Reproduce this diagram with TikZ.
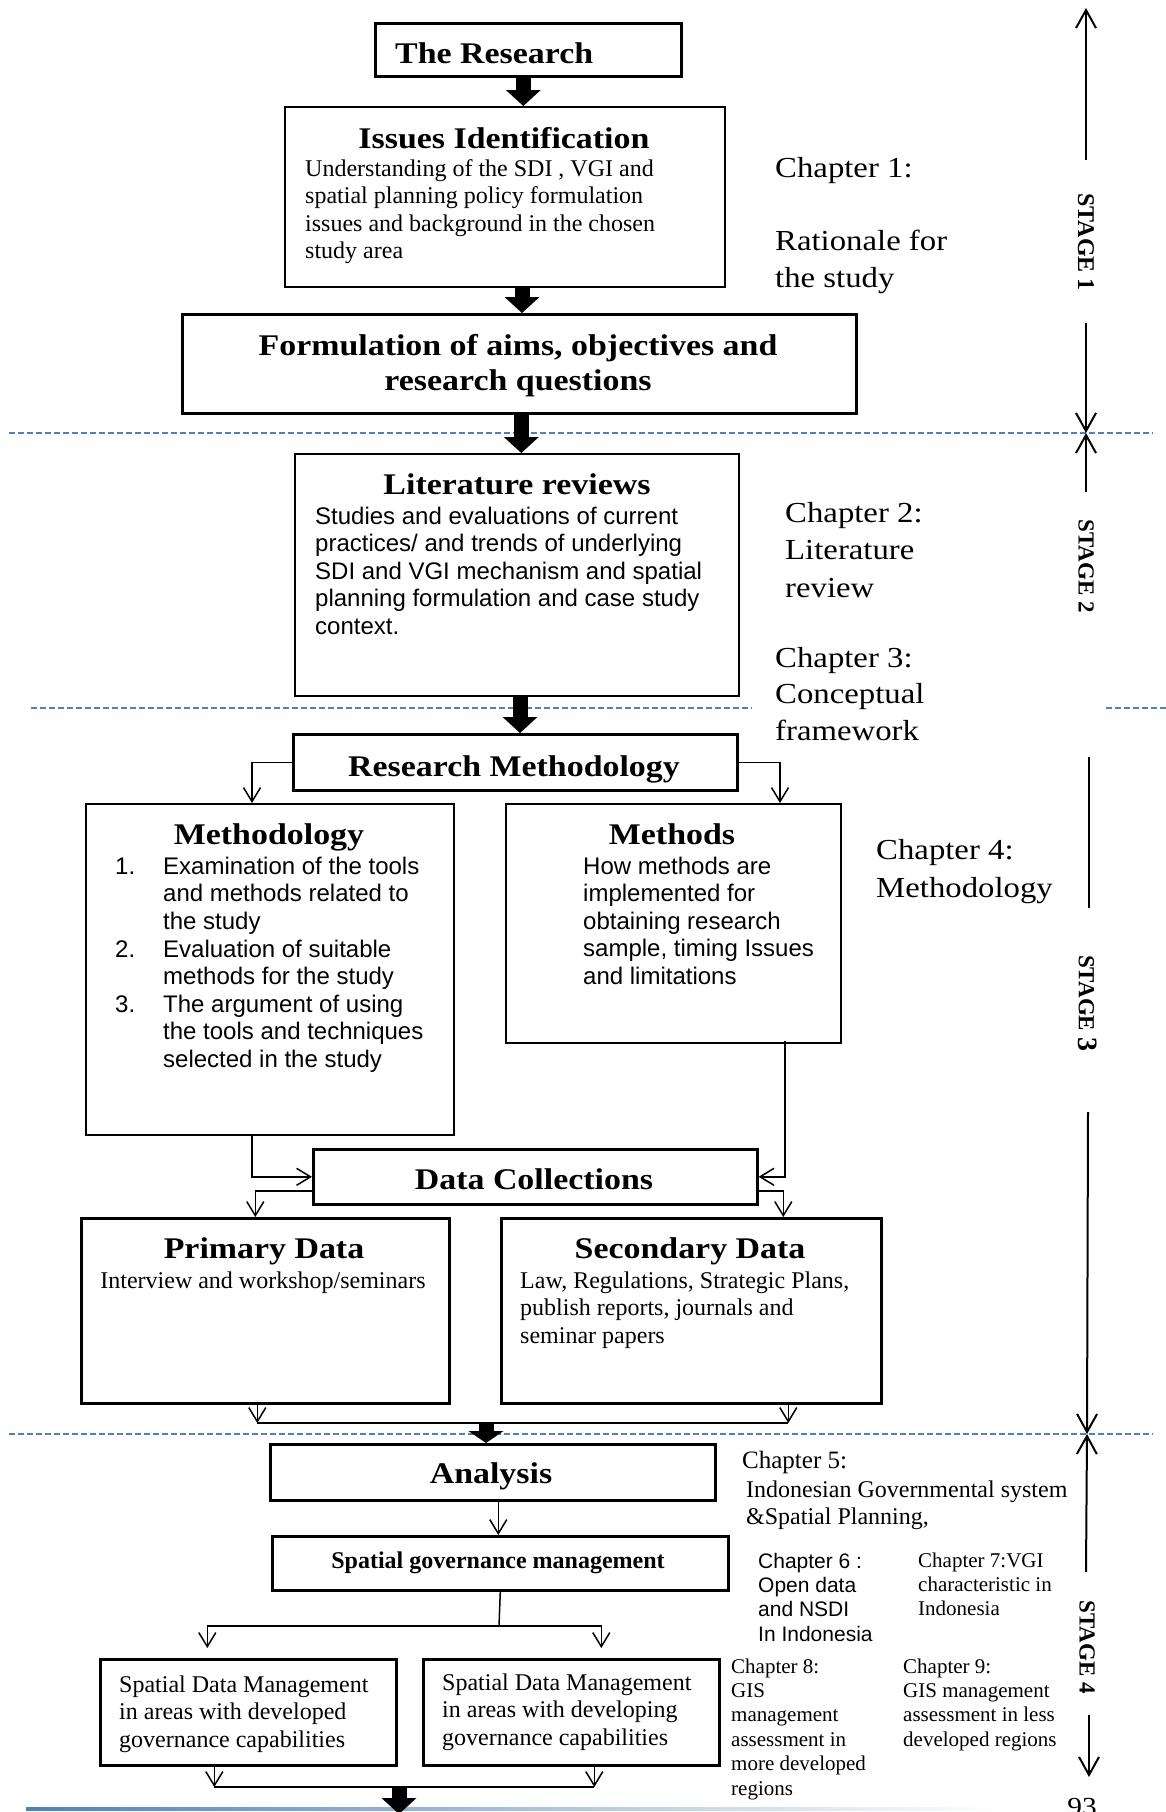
\documentclass[tikz,border=0pt]{standalone}
\usepackage{fontspec}
\setmainfont{Liberation Serif}
\newfontfamily\cambria[FakeStretch=1.13]{Liberation Serif}
\newfontfamily\arial{Liberation Sans}
\usetikzlibrary{arrows.meta,calc}
\definecolor{rulerblue}{RGB}{79,129,189}

% Multi-line text nodes below are anchored on the baseline of their last line.
\begin{document}
\begin{tikzpicture}[x=1pt,y=-1pt,
  box/.style={draw, line width=2pt, inner sep=0pt, anchor=north west},
  heavybox/.style={box, line width=2.6pt},
  boxtitle/.style={font=\cambria\bfseries\fontsize{30}{33}\selectfont, inner sep=0pt, anchor=base, align=center},
  chap/.style={font=\cambria\fontsize{29}{37}\selectfont, inner sep=0pt, anchor=base west, align=left},
  rmtext/.style={font=\fontsize{24}{27.6}\selectfont, inner sep=0pt, anchor=base west, align=left},
  sftext/.style={font=\arial\fontsize{24}{27.6}\selectfont, inner sep=0pt, anchor=base west, align=left},
  smallrm/.style={font=\fontsize{21}{24.4}\selectfont, inner sep=0pt, anchor=base west, align=left},
  smallsf/.style={font=\arial\fontsize{21}{24.4}\selectfont, inner sep=0pt, anchor=base west, align=left},
  stagelbl/.style={font=\bfseries\fontsize{23}{23}\selectfont, inner sep=0pt, rotate=-90},
  thinarrow/.style={line width=1.5pt, -{Straight Barb[length=14pt,width=17pt]}},
  wire/.style={line width=1.5pt},
  bigarrow/.style={line width=15pt, -{Triangle[width=35pt,length=16pt,line width=0pt]}},
  stagearrow/.style={line width=2pt, -{Straight Barb[length=18pt,width=20pt]}},
  divider/.style={rulerblue, line width=1.5pt, dash pattern=on 6pt off 3pt},
]
\useasboundingbox (0,0) rectangle (1166,1812);
\clip (0,0) rectangle (1166,1812);
\fill[white] (0,0) rectangle (1166,1812);

% stage dividers
\draw[divider] (9,433) -- (1153,433);
\draw[divider] (31,708) -- (752,708);
\draw[divider] (1106,708) -- (1166,708);
\draw[divider] (9,1434) -- (1153,1434);

% footer rule
\shade[left color=rulerblue, right color=white] (26,1807) rectangle (1000,1810.5);

% ---------- boxes ----------
\node[heavybox, minimum width=306pt, minimum height=53pt]  (research)    at (374,22)   {};
\node[box, minimum width=440pt, minimum height=180pt] (issues)      at (284,106)  {};
\node[heavybox, minimum width=674pt, minimum height=99pt]  (formulation) at (181,313)  {};
\node[box, minimum width=444pt, minimum height=242pt] (literature)  at (294,453)  {};
\node[heavybox, minimum width=444pt, minimum height=56pt]  (resmeth)     at (292,733)  {};
\node[box, minimum width=368pt, minimum height=331pt] (methodology) at (85,803)   {};
\node[box, minimum width=335pt, minimum height=239pt] (methods)     at (505,803)  {};
\node[heavybox, minimum width=444pt, minimum height=55pt]  (datacoll)    at (312,1148) {};
\node[heavybox, minimum width=368pt, minimum height=185pt] (primary)     at (80,1217)  {};
\node[heavybox, minimum width=380pt, minimum height=185pt] (secondary)   at (500,1217) {};
\node[heavybox, minimum width=445pt, minimum height=56pt]  (analysis)    at (269,1443) {};
\node[heavybox, minimum width=456pt, minimum height=54pt]  (sgm)         at (271,1535) {};
\node[heavybox, minimum width=296pt, minimum height=106pt] (sdmdev)      at (99,1658)  {};
\node[heavybox, minimum width=296pt, minimum height=106pt] (sdmless)     at (422,1658) {};

% ---------- box texts ----------
\node[boxtitle, anchor=base west] (tResearch) at (395,63) {The Research};
\node[boxtitle] (tIssues) at (504,148) {Issues Identification};
\node[rmtext] (bIssues) at (305,258.8) {Understanding of the SDI , VGI and\\spatial planning policy formulation\\issues and background in the chosen\\study area};
\node[boxtitle, font=\cambria\bfseries\fontsize{30}{35}\selectfont] (tForm) at (518,390) {Formulation of aims, objectives and\\research questions};
\node[boxtitle] (tLit) at (517,494) {Literature reviews};
\node[sftext] (bLit) at (315,634.4) {Studies and evaluations of current\\practices/ and trends of underlying\\SDI and VGI mechanism and spatial\\planning formulation and case study\\context.};
\node[boxtitle] (tResMeth) at (514,776) {Research Methodology};
\node[boxtitle] (tMethodology) at (269,844) {Methodology};
\node[sftext] (n1) at (115,874)  {1.};
\node[sftext] (i1) at (163,929.2)  {Examination of the tools\\and methods related to\\the study};
\node[sftext] (n2) at (115,957)  {2.};
\node[sftext] (i2) at (163,984.6)  {Evaluation of suitable\\methods for the study};
\node[sftext] (n3) at (115,1012) {3.};
\node[sftext] (i3) at (163,1067.2) {The argument of using\\the tools and techniques\\selected in the study};
\node[boxtitle] (tMethods) at (672,844) {Methods};
\node[sftext] (bMethods) at (583,984.4) {How methods are\\implemented for\\obtaining research\\sample, timing Issues\\and limitations};
\node[boxtitle] (tData) at (534,1189) {Data Collections};
\node[boxtitle] (tPrimary) at (264,1258) {Primary Data};
\node[rmtext, anchor=base] (bPrimary) at (263,1288) {Interview and workshop/seminars};
\node[boxtitle] (tSecondary) at (690,1258) {Secondary Data};
\node[rmtext] (bSecondary) at (520,1343.2) {Law, Regulations, Strategic Plans,\\publish reports, journals and\\seminar papers};
\node[boxtitle] (tAnalysis) at (491,1483) {Analysis};
\node[rmtext, anchor=base, font=\bfseries\fontsize{24}{27.6}\selectfont] (tSgm) at (498,1568) {Spatial governance management};
\node[rmtext] (bDev) at (119,1747.2) {Spatial Data Management\\in areas with developed\\governance capabilities};
\node[rmtext] (bLess) at (442,1745.2) {Spatial Data Management\\in areas with developing\\governance capabilities};

% ---------- chapter notes ----------
\node[chap] (ch1)  at (775,177) {Chapter 1:};
\node[chap] (ch1b) at (775,287) {Rationale for\\the study};
\node[chap, font=\cambria\fontsize{29}{37.5}\selectfont] (ch2) at (785,597) {Chapter 2:\\Literature\\review};
\node[chap, font=\cambria\fontsize{29}{36.5}\selectfont] (ch3) at (775,740) {Chapter 3:\\Conceptual\\framework};
\node[chap, font=\cambria\fontsize{29}{38}\selectfont] (ch4) at (876,897) {Chapter 4:\\Methodology};
\node[rmtext, font=\fontsize{25}{27.6}\selectfont] (ch5) at (742,1468) {Chapter 5:};
\node[rmtext, font=\fontsize{24}{27.4}\selectfont] (ch5b) at (746,1524.4) {Indonesian Governmental system\\\&Spatial Planning,};
\node[smallsf] (ch6) at (758,1641.2) {Chapter 6 :\\Open data\\and NSDI\\In Indonesia};
\node[smallrm] (ch7) at (918,1615.8) {Chapter 7:VGI\\characteristic in\\Indonesia};
\node[smallrm] (ch8) at (731,1795) {Chapter 8:\\GIS\\management\\assessment in\\more developed\\regions};
\node[smallrm] (ch9) at (903,1746.2) {Chapter 9:\\GIS management\\assessment in less\\developed regions};
\node[chap, anchor=base, font=\cambria\fontsize{26}{26}\selectfont] (pageno) at (1082,1815) {93};

% ---------- stage markers ----------
\node[stagelbl, font=\bfseries\fontsize{24}{24}\selectfont] (stage1) at (1086,242) {STAGE 1};
\node[stagelbl] (stage2) at (1086,566) {STAGE 2};
\node[stagelbl] (stage3) at (1088,1003) {STAGE {\fontsize{28}{28}\selectfont 3}};
\node[stagelbl] (stage4) at (1087,1647) {STAGE 4};
\coordinate (s1top) at (1086,8);
\coordinate (s1a)   at (1086,160);
\coordinate (s1b)   at (1086,323);
\coordinate (s1bot) at (1086,433);
\coordinate (s2a)   at (1086,492);
\coordinate (s3a)   at (1089,757);
\coordinate (s3b)   at (1089,908);
\coordinate (s3c)   at (1088,1112);
\coordinate (s3bot) at (1087,1434);
\coordinate (s4a)   at (1086,1572);
\coordinate (s4b)   at (1089,1715);
\coordinate (s4bot) at (1089,1777);
\draw[stagearrow] (s1a) -- (s1top);
\draw[stagearrow] (s1b) -- (s1bot);
\draw[stagearrow] (s2a) -- (s1bot);
\draw[line width=2pt] (s3a) -- (s3b);
\draw[stagearrow] (s3c) -- (s3bot);
\draw[stagearrow] (s4a) -- (s3bot);
\draw[stagearrow] (s4b) -- (s4bot);

% ---------- main flow ----------
\path ([xshift=-5pt]research.south)   coordinate (a1);
\path ([xshift=17pt]issues.south)     coordinate (a2);
\path ([xshift=2pt]formulation.south) coordinate (a3);
\path ([xshift=3pt]literature.south)  coordinate (a4);
\draw[bigarrow] (a1) -- (a1 |- issues.north);
\draw[bigarrow] (a2) -- (a2 |- formulation.north);
\draw[bigarrow] (a3) -- (a3 |- literature.north);
\draw[bigarrow] (a4) -- (a4 |- resmeth.north);

% research methodology splits into methodology and methods
\draw[thinarrow] (resmeth.west) -| ([xshift=-18pt]methodology.north);
\draw[thinarrow] (resmeth.east) -| ([xshift=106.5pt]methods.north);

% both feed data collections
\draw[thinarrow] ([xshift=-18pt]methodology.south) |- (datacoll.west);
\draw[thinarrow] ([xshift=111.5pt,yshift=3pt]methods.south) |- (datacoll.east);

% data collections splits into primary and secondary data
\draw[thinarrow] ([yshift=-14pt]datacoll.west) -| ([xshift=-10pt]primary.north);
\draw[thinarrow] ([yshift=-14pt]datacoll.east) -| ([xshift=92pt]secondary.north);

% primary and secondary data merge into analysis
\coordinate (j1) at (486,1423);
\path ([xshift=-8pt]primary.south)  coordinate (p1);
\path ([xshift=97pt]secondary.south) coordinate (q1);
\draw[thinarrow] (p1) -- (p1 |- j1);
\draw[thinarrow] (q1) -- (q1 |- j1);
\draw[wire] (p1 |- j1) -- (q1 |- j1);
\draw[line width=15pt, -{Triangle[width=35pt,length=12pt,line width=0pt]}] (j1) -- (j1 |- analysis.north);

% analysis to spatial governance management
\path ([xshift=5.5pt]analysis.south) coordinate (a5);
\draw[thinarrow] (a5) -- (a5 |- sgm.north);

% governance management splits into the two regional cases
\coordinate (j2) at (499,1626);
\draw[wire] (sgm.south) -- (j2);
\draw[thinarrow, shorten >=10pt] (j2) -| ([xshift=-41pt]sdmdev.north);
\draw[thinarrow, shorten >=10pt] (j2) -| ([xshift=30pt]sdmless.north);

% the two cases merge and continue on the next page
\coordinate (j3) at (399,1787);
\coordinate (pageend) at (399,1814);
\path ([xshift=-34pt]sdmdev.south) coordinate (p2);
\path ([xshift=23pt]sdmless.south) coordinate (q2);
\draw[thinarrow] (p2) -- (p2 |- j3);
\draw[thinarrow] (q2) -- (q2 |- j3);
\draw[wire] (p2 |- j3) -- (q2 |- j3);
\draw[bigarrow] (j3) -- (pageend);
\end{tikzpicture}
\end{document}
